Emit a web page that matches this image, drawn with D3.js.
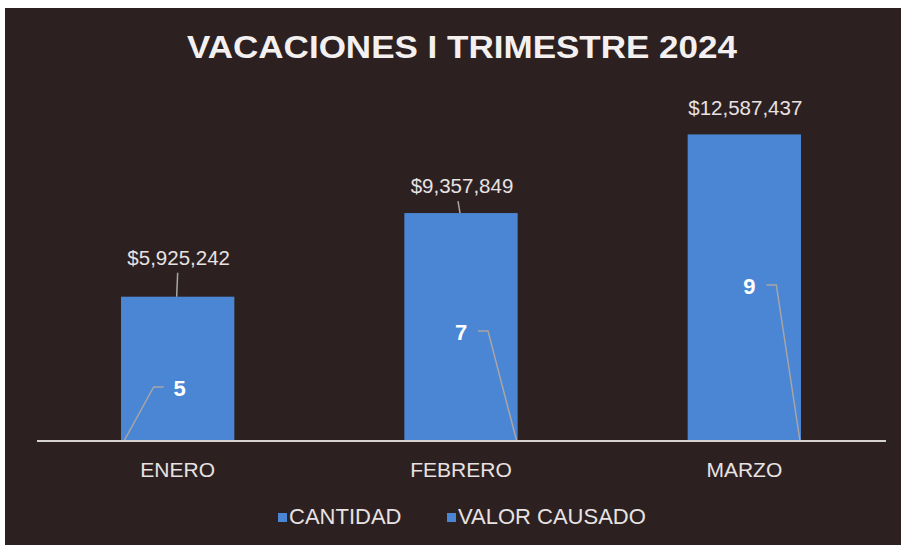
<!DOCTYPE html>
<html>
<head>
<meta charset="utf-8">
<script src="https://cdn.jsdelivr.net/npm/d3@7"></script>
<style>
  body { margin: 0; background: #ffffff; }
  svg { display: block; font-family: "Liberation Sans", Arial, sans-serif; }
</style>
</head>
<body>
<svg id="chart" width="901" height="545"></svg>
<script>
var months = ["ENERO", "FEBRERO", "MARZO"];
var cantidad = [5, 7, 9];
var valorCausado = [5925242, 9357849, 12587437];
var seriesNames = ["CANTIDAD", "VALOR CAUSADO"];

var title = "VACACIONES I TRIMESTRE 2024";
var bg = "#2c2021";
var blue = "#4a86d3";
var textColor = "#e8e2e2";
var leaderColor = "#a9a5a5";

// manual nudges of the data labels (excel dragged them around)
var countLabelOffset = [
    {dx: 2, dy: -53, side: "left"},
    {dx: 0, dy: -109, side: "right"},
    {dx: 5, dy: -155, side: "right"}
];
var valueLabelOffset = [
    {dy: -32, leader: true},
    {dy: -20, leader: true},
    {dy: -19, leader: false}
];

var svg = d3.select("#chart");

svg.append("rect")
    .attr("x", 5)
    .attr("y", 8)
    .attr("width", 896)
    .attr("height", 537)
    .attr("fill", bg);

svg.append("text")
    .attr("x", 187)
    .attr("y", 58)
    .attr("textLength", 550)
    .attr("lengthAdjust", "spacingAndGlyphs")
    .attr("font-size", 32)
    .attr("font-weight", "bold")
    .attr("fill", "#f4f0f0")
    .text(title);

var x = d3.scaleBand()
    .domain(months)
    .range([36, 886]);

var y = d3.scaleLinear()
    .domain([0, 14000000])
    .range([441, 100]);

var barW = x.bandwidth() * 0.4;
var fmt = d3.format("$,");

var data = months.map(function(m, i) {
    return {month: m, count: cantidad[i], value: valorCausado[i],
            off: countLabelOffset[i], voff: valueLabelOffset[i]};
});

var groups = svg.selectAll("g.cat")
    .data(data)
    .enter().append("g")
    .attr("class", "cat");

groups.append("rect")
    .attr("x", function(d) {return x(d.month) + (x.bandwidth() - barW) / 2;})
    .attr("y", function(d) {return y(d.value);})
    .attr("width", barW)
    .attr("height", function(d) {return y(0) - y(d.value);})
    .attr("fill", blue);

// axis line
svg.append("line")
    .attr("x1", x.range()[0] + 1)
    .attr("x2", x.range()[1])
    .attr("y1", y(0))
    .attr("y2", y(0))
    .attr("stroke", "#d6d2d2")
    .attr("stroke-width", 2);

// category labels
groups.append("text")
    .attr("x", function(d) {return x(d.month) + x.bandwidth() / 2;})
    .attr("y", 477)
    .attr("text-anchor", "middle")
    .attr("font-size", 21)
    .attr("fill", textColor)
    .text(function(d) {return d.month;});

// value labels
groups.append("text")
    .attr("x", function(d) {return x(d.month) + x.bandwidth() / 2 + 1;})
    .attr("y", function(d) {return y(d.value) + d.voff.dy;})
    .attr("text-anchor", "middle")
    .attr("font-size", 20.5)
    .attr("fill", textColor)
    .text(function(d) {return fmt(d.value);});

groups.filter(function(d) {return d.voff.leader;})
    .append("line")
    .attr("x1", function(d, i) {return x(d.month) + x.bandwidth() / 2 - (i ? 3 : 0);})
    .attr("x2", function(d) {return x(d.month) + x.bandwidth() / 2 - 1;})
    .attr("y1", function(d) {return y(d.value) + d.voff.dy + 8;})
    .attr("y2", function(d) {return y(d.value);})
    .attr("stroke", leaderColor)
    .attr("stroke-width", 1.5);

// count labels with leader lines
groups.append("text")
    .attr("x", function(d) {return x(d.month) + x.bandwidth() / 2 + d.off.dx;})
    .attr("y", function(d) {return y(0) + d.off.dy + 8;})
    .attr("text-anchor", "middle")
    .attr("font-size", 22)
    .attr("font-weight", "bold")
    .attr("fill", "#ffffff")
    .text(function(d) {return d.count;});

groups.append("path")
    .attr("d", function(d) {
        var cx = x(d.month) + x.bandwidth() / 2 + d.off.dx;
        var ly = y(0) + d.off.dy - 1;
        var left = x(d.month) + (x.bandwidth() - barW) / 2;
        if (d.off.side === "left") {
            return "M" + (cx - 16) + "," + ly + "H" + (cx - 26) + "L" + (left + 3) + "," + y(0);
        }
        return "M" + (cx + 17) + "," + ly + "H" + (cx + 27) + "L" + (left + barW - 1) + "," + y(0);
    })
    .attr("fill", "none")
    .attr("stroke", leaderColor)
    .attr("stroke-width", 1.5);

// legend
var legend = svg.selectAll("g.legend")
    .data(seriesNames)
    .enter().append("g")
    .attr("class", "legend")
    .attr("transform", function(d, i) {return "translate(" + (i ? 447 : 278) + ",513)";});

legend.append("rect")
    .attr("width", 9)
    .attr("height", 9)
    .attr("fill", blue);

legend.append("text")
    .attr("x", 11)
    .attr("y", 11)
    .attr("font-size", 22)
    .attr("fill", textColor)
    .text(function(d) {return d;});
</script>
</body>
</html>
